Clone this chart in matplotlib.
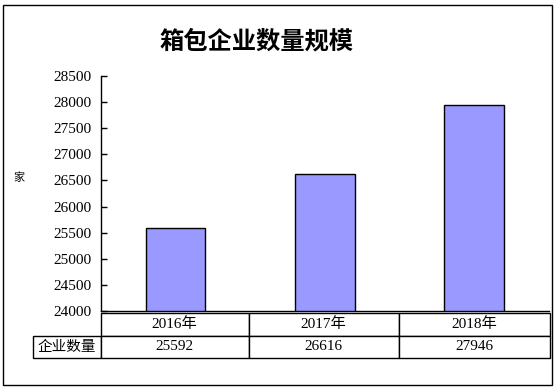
import matplotlib
matplotlib.use("Agg")
import matplotlib.pyplot as plt
from matplotlib.patches import Rectangle

# data
years = ["2016年", "2017年", "2018年"]
counts = [25592, 26616, 27946]
row_label = "企业数量"
title = "箱包企业数量规模"
unit = "家"

cjk = ["Noto Sans CJK SC", "DejaVu Sans"]
serif = ["Liberation Serif", "Noto Sans CJK SC"]

fig = plt.figure(figsize=(5.6, 3.88), dpi=100)
ax = fig.add_axes([0.180, 0.1985, 0.800, 0.6057])

x = range(len(years))
ax.bar(x, counts, width=0.4, color="#9999ff", edgecolor="black", linewidth=1.0)
ax.set_xlim(-0.5, len(years) - 0.5)
ax.set_ylim(24000, 28500)
ax.set_yticks(range(24000, 28501, 500))
for lbl in ax.get_yticklabels():
    lbl.set_family(serif)
    lbl.set_fontsize(11)
ax.tick_params(axis="y", direction="in", length=4, width=1, pad=7)
ax.set_xticks([])
ax.spines["top"].set_visible(False)
ax.spines["right"].set_visible(False)
ax.spines["left"].set_linewidth(1)
ax.spines["bottom"].set_linewidth(1)

ax.set_ylabel(unit, rotation=0, family=cjk, fontsize=8, labelpad=0,
              va="center", ha="center")
ax.yaxis.set_label_coords(-0.182, 0.566)

fig.text(0.458, 0.893, title, ha="center", va="center", family=cjk,
         fontsize=17.5, fontweight="semibold")

# data table under the axis
cells = [[""] + years, [row_label] + [str(v) for v in counts]]
tbl = ax.table(cellText=cells, cellLoc="center",
               colWidths=[68, 148, 150, 151],
               bbox=[-0.152, -0.20, 1.154, 0.19])
tbl.auto_set_font_size(False)
for (r, c), cell in tbl.get_celld().items():
    cell.set_linewidth(1)
    cell.get_text().set_family(serif)
    cell.get_text().set_fontsize(11)
    if r == 0 and c == 0:
        cell.visible_edges = ""
    if r == 1 and c == 0:
        cell.get_text().set_family(cjk)
        cell.get_text().set_fontsize(10.5)

fig.patches.append(Rectangle((3 / 560, 3 / 388), 549 / 560, 380 / 388,
                             transform=fig.transFigure, fill=False,
                             edgecolor="black", linewidth=1))

fig.savefig("out.png", dpi=100)
